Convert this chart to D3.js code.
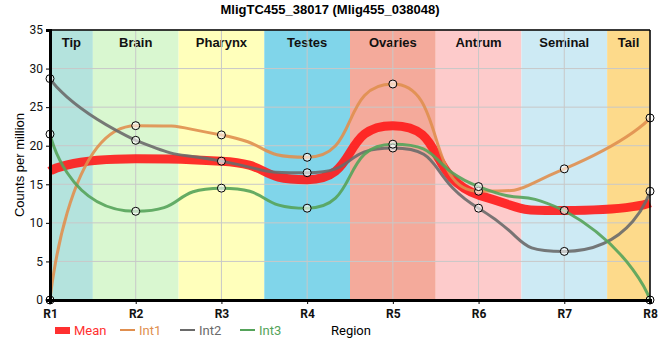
<!DOCTYPE html>
<html><head><meta charset="utf-8">
<script src="https://cdn.jsdelivr.net/npm/d3@7"></script>
<style>body{margin:0;background:#fff}svg{display:block}</style>
</head><body><svg id="c" width="660" height="360"></svg>
<script>
const regions = ["R1","R2","R3","R4","R5","R6","R7","R8"];
const bandNames = ["Tip","Brain","Pharynx","Testes","Ovaries","Antrum","Seminal","Tail"];
const bandColors = ["#b4e3dd","#d9f7d0","#ffffbb","#80d5ea","#f4aa9b","#fdcbcb","#cdeaf4","#fdda8b"];
const meanVals = [16.7, 18.3, 18.0, 15.6, 22.6, 13.6, 11.6, 12.6];
const int1Vals = [0, 22.6, 21.4, 18.5, 28.0, 14.1, 17.0, 23.6];
const int2Vals = [28.7, 20.7, 18.0, 16.5, 19.7, 11.9, 6.3, 14.1];
const int3Vals = [21.5, 11.5, 14.5, 11.9, 20.2, 14.7, 11.6, 0];
const yTicks = [0,5,10,15,20,25,30,35];

const series = [
  {name:"Int1", vals:int1Vals, color:"#e08f4f"},
  {name:"Int2", vals:int2Vals, color:"#6a6a6a"},
  {name:"Int3", vals:int3Vals, color:"#55a35a"}
];

// custom smooth monotone curve with long handles (d3 curve interface)
function LongMono(context){ this._context = context; }
LongMono.prototype = {
  areaStart(){ this._line = 0; }, areaEnd(){ this._line = NaN; },
  lineStart(){ this._xs = []; this._ys = []; },
  point(x,y){ this._xs.push(+x); this._ys.push(+y); },
  lineEnd(){
    const xs=this._xs, ys=this._ys, n=xs.length, c=this._context, a=0.62, aEnd=0.8;
    if(!n) return;
    c.moveTo(xs[0],ys[0]);
    const m = new Array(n).fill(0);
    for(let i=1;i<n-1;i++){
      const h0=xs[i]-xs[i-1], h1=xs[i+1]-xs[i];
      const s0=(ys[i]-ys[i-1])/h0, s1=(ys[i+1]-ys[i])/h1;
      const p=(s0*h1+s1*h0)/(h0+h1);
      m[i]=(Math.sign(s0)+Math.sign(s1))*Math.min(Math.abs(s0),Math.abs(s1),0.5*Math.abs(p))||0;
    }
    for(let i=0;i<n-1;i++){
      const h=xs[i+1]-xs[i], lo=Math.min(ys[i],ys[i+1]), hi=Math.max(ys[i],ys[i+1]);
      const cl=v=>Math.max(lo,Math.min(hi,v));
      const first=(i===0), last=(i===n-2);
      let c1x,c1y,c2x,c2y;
      if(first){c1x=xs[0];c1y=ys[0];}
      else { const k=last?aEnd:a; c1x=xs[i]+k*h; c1y=cl(ys[i]+k*h*m[i]); }
      if(last){c2x=xs[n-1];c2y=ys[n-1];}
      else { const k=first?aEnd:a; c2x=xs[i+1]-k*h; c2y=cl(ys[i+1]-k*h*m[i+1]); }
      c.bezierCurveTo(c1x,c1y,c2x,c2y,xs[i+1],ys[i+1]);
    }
  }
};
const curveLongMono = ctx => new LongMono(ctx);

const svg = d3.select("#c");
const L=50, R=650, T=30, B=300;
const x = d3.scalePoint().domain(regions).range([L,R]);
const y = d3.scaleLinear().domain([0,35]).range([B,T]);
const step = x.step();

// bands
bandNames.forEach((n,i)=>{
  const cx = x(regions[i]);
  const x0 = Math.max(L, cx-step/2), x1 = Math.min(R, cx+step/2);
  svg.append("rect").attr("x",x0).attr("y",T).attr("width",x1-x0).attr("height",B-T).attr("fill",bandColors[i]);
  svg.append("text").attr("x",(x0+x1)/2).attr("y",T+17).attr("text-anchor","middle")
    .attr("font-family","Liberation Sans, Arial, sans-serif").attr("font-weight","bold").attr("font-size",13)
    .attr("fill","#111").text(n);
});

// grid
svg.append("g").selectAll("line").data(yTicks).join("line")
  .attr("x1",L).attr("x2",R).attr("y1",d=>y(d)).attr("y2",d=>y(d)).attr("stroke","#c8c8c8").attr("stroke-width",1);
svg.append("g").selectAll("line").data(regions).join("line")
  .attr("x1",d=>x(d)).attr("x2",d=>x(d)).attr("y1",T).attr("y2",B).attr("stroke","#c8c8c8").attr("stroke-width",1);

const line = d3.line().x((d,i)=>x(regions[i])).y(d=>y(d)).curve(curveLongMono);

svg.append("path").attr("d",line(meanVals)).attr("fill","none").attr("stroke","#ff1a1a")
  .attr("stroke-opacity",0.9).attr("stroke-width",9);
series.forEach(s=>{
  svg.append("path").attr("d",line(s.vals)).attr("fill","none").attr("stroke",s.color)
    .attr("stroke-opacity",0.9).attr("stroke-width",3);
});
series.forEach(s=>{
  svg.append("g").selectAll("circle").data(s.vals).join("circle")
    .attr("cx",(d,i)=>x(regions[i])).attr("cy",d=>y(d)).attr("r",4)
    .attr("fill","#fff").attr("fill-opacity",0.6).attr("stroke","#000").attr("stroke-width",1);
});

// frame
svg.append("line").attr("x1",L).attr("x2",R).attr("y1",T).attr("y2",T).attr("stroke","#000").attr("stroke-width",1.5);
svg.append("line").attr("x1",R).attr("x2",R).attr("y1",T).attr("y2",B).attr("stroke","#000").attr("stroke-width",1.5);

// axes
const ya = svg.append("g").attr("transform",`translate(${L},0)`)
  .call(d3.axisLeft(y).tickValues(yTicks).tickSize(4).tickFormat(d3.format("d")));
ya.select(".domain").attr("stroke-width",3);
ya.selectAll("text").attr("font-family","Roboto, sans-serif").attr("font-size",12).attr("fill","#111");
const xa = svg.append("g").attr("transform",`translate(0,${B})`)
  .call(d3.axisBottom(x).tickSize(4));
xa.select(".domain").attr("stroke-width",3);
xa.selectAll("text").attr("font-family","Roboto, sans-serif").attr("font-weight","bold").attr("font-size",12).attr("fill","#111").attr("dy","0.9em");

// title
svg.append("text").attr("x",330).attr("y",14).attr("text-anchor","middle")
  .attr("font-family","Liberation Sans, Arial, sans-serif").attr("font-weight","bold").attr("font-size",13)
  .text("MligTC455_38017 (Mlig455_038048)");
// y label
svg.append("text").attr("transform","translate(24,165) rotate(-90)").attr("text-anchor","middle")
  .attr("font-family","Liberation Sans, Arial, sans-serif").attr("font-size",13).text("Counts per million");
// x label
svg.append("text").attr("x",331).attr("y",335).attr("font-family","Roboto, sans-serif").attr("font-size",13).text("Region");

// legend
const leg = [
  {name:"Mean", color:"#ff3030", x:55, rect:true},
  {name:"Int1", color:series[0].color, x:120},
  {name:"Int2", color:series[1].color, x:180},
  {name:"Int3", color:series[2].color, x:240}
];
leg.forEach(l=>{
  if(l.rect) svg.append("rect").attr("x",l.x).attr("y",327).attr("width",15).attr("height",7).attr("fill",l.color);
  else svg.append("line").attr("x1",l.x).attr("x2",l.x+15).attr("y1",330).attr("y2",330).attr("stroke",l.color).attr("stroke-width",2);
  svg.append("text").attr("x",l.x+19).attr("y",335).attr("font-family","Roboto, sans-serif").attr("font-size",13)
    .attr("fill",l.color).text(l.name);
});
</script></body></html>
